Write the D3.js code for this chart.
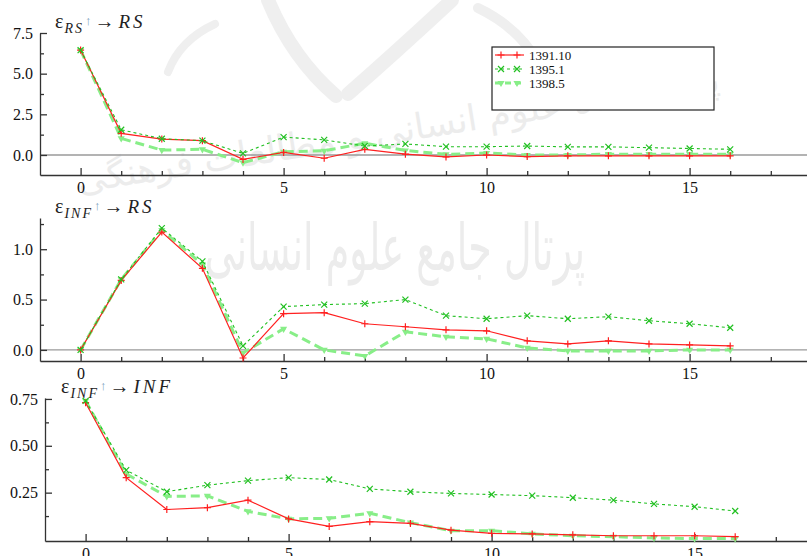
<!DOCTYPE html>
<html>
<head>
<meta charset="utf-8">
<script src="https://cdn.jsdelivr.net/npm/d3@7"></script>
<style>
  body { margin: 0; background: #fff; }
  svg { display: block; font-family: "Liberation Serif", "Times New Roman", serif; }
</style>
</head>
<body>
<div id="vis"></div>
<script>
const width = 807;
const height = 556;

// horizon (periods after the shock)
const periods = [0, 1, 2, 3, 4, 5, 6, 7, 8, 9, 10, 11, 12, 13, 14, 15, 16];
const seriesNames = ["1391.10", "1395.1", "1398.5"];

// eps_RS -> RS
const rsRs_1391 = [6.45, 1.33, 0.98, 0.88, -0.27, 0.16, -0.2, 0.35, 0.05, -0.12, 0.0, -0.1, -0.05, -0.05, -0.05, -0.05, -0.05];
const rsRs_1395 = [6.45, 1.55, 1.0, 0.88, 0.1, 1.1, 0.93, 0.55, 0.68, 0.51, 0.51, 0.55, 0.5, 0.5, 0.45, 0.4, 0.35];
const rsRs_1398 = [6.45, 1.02, 0.3, 0.35, -0.47, 0.2, 0.26, 0.72, 0.28, 0.04, 0.12, 0.0, 0.0, 0.05, 0.05, 0.05, 0.05];

// eps_INF -> RS
const infRs_1391 = [0, 0.69, 1.17, 0.81, -0.08, 0.36, 0.37, 0.26, 0.23, 0.2, 0.19, 0.09, 0.06, 0.09, 0.06, 0.05, 0.04];
const infRs_1395 = [0, 0.7, 1.21, 0.88, 0.04, 0.43, 0.45, 0.46, 0.5, 0.34, 0.31, 0.34, 0.31, 0.33, 0.29, 0.26, 0.22];
const infRs_1398 = [0, 0.7, 1.19, 0.85, -0.03, 0.21, 0.0, -0.06, 0.18, 0.13, 0.11, 0.02, -0.01, -0.01, -0.01, 0.0, 0.0];

// eps_INF -> INF
const infInf_1391 = [0.73, 0.33, 0.16, 0.17, 0.21, 0.11, 0.07, 0.095, 0.086, 0.05, 0.033, 0.03, 0.025, 0.02, 0.02, 0.02, 0.015];
const infInf_1395 = [0.74, 0.37, 0.255, 0.29, 0.314, 0.33, 0.32, 0.27, 0.255, 0.246, 0.24, 0.234, 0.223, 0.21, 0.19, 0.175, 0.152];
const infInf_1398 = [0.74, 0.35, 0.23, 0.233, 0.15, 0.11, 0.113, 0.14, 0.09, 0.047, 0.047, 0.03, 0.02, 0.015, 0.008, 0.005, 0.005];

// axis ticks
const xMajorTicks = [0, 5, 10, 15];
const xMinorTicks = [1, 2, 3, 4, 6, 7, 8, 9, 11, 12, 13, 14, 16, 17];
const rsRsYMajor = [0, 2.5, 5, 7.5];
const rsRsYMinor = [1.25, 3.75, 6.25];
const infRsYMajor = [0, 0.5, 1.0];
const infRsYMinor = [0.25, 0.75, 1.25];
const infInfYMajor = [0.25, 0.5, 0.75];
const infInfYMinor = [0.125, 0.375, 0.625];

const styles = [
  { color: "#ff2020", width: 1.2, dash: null, marker: "plus" },
  { color: "#22c022", width: 1.1, dash: "3,3", marker: "cross" },
  { color: "#88ee88", width: 3, dash: "9,5", marker: "tri" }
];

const panels = [
  { shock: "RS", resp: "RS", data: [rsRs_1391, rsRs_1395, rsRs_1398],
    yDomain: [-1.23, 7.5], top: 33, bottom: 175, left: 40,
    yMajor: rsRsYMajor, yMinor: rsRsYMinor, fmt: ".1f", zero: true, titleY: 28, titleX: 55 },
  { shock: "INF", resp: "RS", data: [infRs_1391, infRs_1395, infRs_1398],
    yDomain: [-0.11, 1.31], top: 218, bottom: 361, left: 40,
    yMajor: infRsYMajor, yMinor: infRsYMinor, fmt: ".1f", zero: true, titleY: 213, titleX: 55 },
  { shock: "INF", resp: "INF", data: [infInf_1391, infInf_1395, infInf_1398],
    yDomain: [-0.008, 0.755], top: 398, bottom: 541, left: 45,
    yMajor: infInfYMajor, yMinor: infInfYMinor, fmt: ".2f", zero: false, titleY: 393, titleX: 61 }
];

const svg = d3.select("#vis").append("svg")
  .attr("width", width)
  .attr("height", height);

// faint background watermark (logo + two lines of text)
const wm = svg.append("g").attr("font-family", "DejaVu Sans");
const logo = wm.append("g").attr("fill", "none").attr("stroke", "#efefef").attr("stroke-linecap", "round");
logo.append("path").attr("stroke-width", 14).attr("d", "M268,0 Q292,58 336,96");
logo.append("path").attr("stroke-width", 14).attr("d", "M452,0 Q396,52 348,94");
logo.append("path").attr("stroke-width", 10).attr("d", "M478,8 Q520,28 540,66");
logo.append("path").attr("stroke-width", 8).attr("d", "M215,24 Q180,40 168,72");
wm.append("text")
  .attr("x", 400).attr("y", 142)
  .attr("text-anchor", "middle")
  .attr("font-size", 36)
  .attr("fill", "#ececec")
  .attr("transform", "rotate(-9,400,142)")
  .text("پژوهشگاه علوم انسانی و مطالعات فرهنگی");
wm.append("text")
  .attr("text-anchor", "middle")
  .attr("font-size", 38)
  .attr("fill", "#ececec")
  .attr("transform", "translate(395,270) scale(1,1.7)")
  .text("پرتال جامع علوم انسانی");

function markerPath(type) {
  if (type === "plus") return "M-3.5,0H3.5M0,-3.5V3.5";
  if (type === "cross") return "M-3,-3L3,3M-3,3L3,-3";
  return d3.symbol(d3.symbolTriangle, 22)();
}

panels.forEach(p => {
  const g = svg.append("g");

  const x = d3.scaleLinear().domain([-1, 18]).range([p.left, p.left + 19 * 40.6]);
  const y = d3.scaleLinear().domain(p.yDomain).range([p.bottom, p.top]);

  if (p.zero) {
    g.append("line")
      .attr("x1", p.left).attr("x2", width)
      .attr("y1", y(0)).attr("y2", y(0))
      .attr("stroke", "#9a9a9a")
      .attr("stroke-width", 1.4);
  }

  // x axis
  const xAxisG = g.append("g").attr("transform", `translate(0,${p.bottom})`);
  xAxisG.call(d3.axisBottom(x).tickValues(xMajorTicks).tickSizeInner(-7).tickSizeOuter(0).tickPadding(7));
  xAxisG.append("g").call(d3.axisBottom(x).tickValues(xMinorTicks).tickSizeInner(-4).tickSizeOuter(0).tickFormat(""))
    .select(".domain").remove();

  // y axis
  const yAxisG = g.append("g").attr("transform", `translate(${p.left},0)`);
  yAxisG.call(d3.axisLeft(y).tickValues(p.yMajor).tickSizeInner(-7).tickSizeOuter(0).tickPadding(7).tickFormat(d3.format(p.fmt)));
  yAxisG.append("g").call(d3.axisLeft(y).tickValues(p.yMinor).tickSizeInner(-4).tickSizeOuter(0).tickFormat(""))
    .select(".domain").remove();

  g.selectAll(".domain, .tick line").attr("stroke", "#333").attr("stroke-width", 1.3);
  g.selectAll(".tick text")
    .attr("fill", "#111")
    .attr("font-size", 16)
    .attr("font-family", "Liberation Serif");

  // lines, drawn back to front
  [2, 0, 1].forEach(i => {
    const st = styles[i];
    const vals = p.data[i];
    const line = d3.line()
      .x((d, j) => x(periods[j]))
      .y(d => y(d));
    g.append("path")
      .datum(vals)
      .attr("fill", "none")
      .attr("stroke", st.color)
      .attr("stroke-width", st.width)
      .attr("stroke-dasharray", st.dash)
      .attr("d", line);
    g.selectAll(null)
      .data(vals)
      .enter().append("path")
      .attr("transform", (d, j) => `translate(${x(periods[j])},${y(d)})` + (st.marker === "tri" ? " rotate(180)" : ""))
      .attr("d", markerPath(st.marker))
      .attr("fill", st.marker === "tri" ? st.color : "none")
      .attr("stroke", st.color)
      .attr("stroke-width", st.marker === "tri" ? 0 : 1.2);
  });

  // panel title: eps_shock ↑ -> response
  const t = g.append("text")
    .attr("x", p.titleX)
    .attr("y", p.titleY)
    .attr("fill", "#222")
    .attr("font-size", 20);
  t.append("tspan").text("ε");
  t.append("tspan").attr("font-style", "italic").attr("font-size", 14)
    .attr("letter-spacing", 2).attr("dx", 1).attr("dy", 5).text(p.shock);
  t.append("tspan").attr("font-size", 13).attr("fill", "#7f9fc0")
    .attr("dx", 1).attr("dy", -8).text("↑");
  t.append("tspan").attr("font-size", 20).attr("dx", 3).attr("dy", 3).text("→");
  t.append("tspan").attr("font-style", "italic").attr("font-size", 19)
    .attr("letter-spacing", 3).attr("dx", 4).text(p.resp);
});

// legend
const legend = svg.append("g").attr("transform", "translate(492,47)");
legend.append("rect")
  .attr("width", 222).attr("height", 63)
  .attr("fill", "#fff")
  .attr("stroke", "#222")
  .attr("stroke-width", 1.2);
seriesNames.forEach((name, i) => {
  const st = styles[i];
  const row = legend.append("g").attr("transform", `translate(0,${8 + i * 14})`);
  row.append("line")
    .attr("x1", 3).attr("x2", 32)
    .attr("stroke", st.color)
    .attr("stroke-width", st.width)
    .attr("stroke-dasharray", st.marker === "tri" ? "6,4" : st.dash);
  [9, 25].forEach(mx => {
    row.append("path")
      .attr("transform", `translate(${mx},0)` + (st.marker === "tri" ? " rotate(180)" : ""))
      .attr("d", markerPath(st.marker))
      .attr("fill", st.marker === "tri" ? st.color : "none")
      .attr("stroke", st.color)
      .attr("stroke-width", st.marker === "tri" ? 0 : 1.2);
  });
  row.append("text")
    .attr("x", 37).attr("dy", "0.35em")
    .attr("font-size", 13)
    .attr("fill", "#111")
    .text(name);
});
</script>
</body>
</html>
